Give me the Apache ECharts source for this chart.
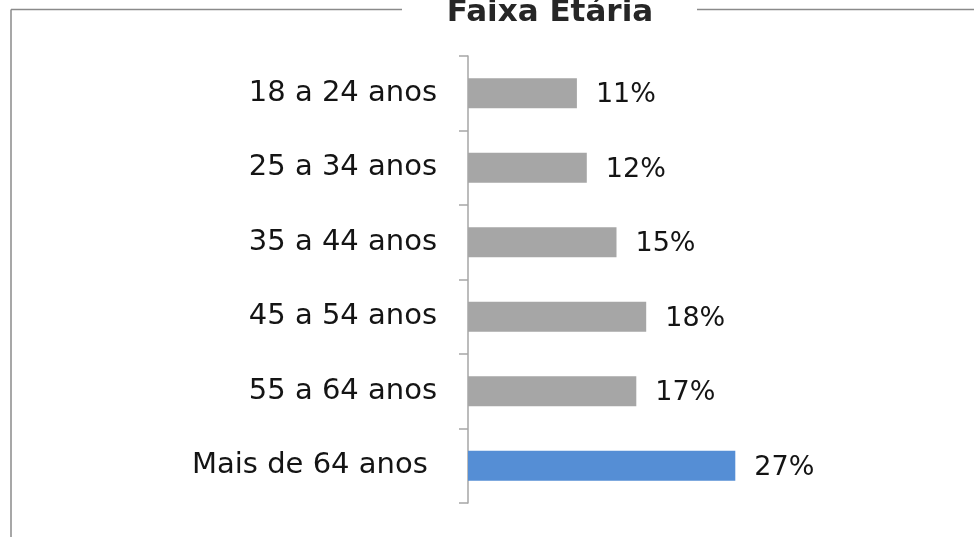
<!DOCTYPE html>
<html>
<head>
<meta charset="utf-8">
<script src="https://cdn.jsdelivr.net/npm/echarts@6/dist/echarts.min.js"></script>
<style>
  html, body { margin: 0; padding: 0; background: #ffffff; }
  #chart { width: 974px; height: 537px; }
</style>
</head>
<body>
<div id="chart"></div>
<script>
// Age bracket shares (percent)
const categories = ['18 a 24 anos', '25 a 34 anos', '35 a 44 anos', '45 a 54 anos', '55 a 64 anos', 'Mais de 64 anos '];
const shares = [11, 12, 15, 18, 17, 27];
const highlighted = 'Mais de 64 anos ';
const chartTitle = 'Faixa Etária';

const FONT = 'DejaVu Sans';
const GRAY = '#a6a6a6';
const BLUE = '#558ed5';
const FRAME = '#8a8a8a';

const chart = echarts.init(document.getElementById('chart'), null, { renderer: 'canvas' });

chart.setOption({
  animation: false,
  backgroundColor: '#ffffff',
  title: {
    text: chartTitle,
    left: 545,
    textAlign: 'center',
    top: -8,
    textStyle: { fontFamily: FONT, fontWeight: 'bold', fontSize: 31, color: '#262626' }
  },
  graphic: [
    { type: 'line', shape: { x1: 11, y1: 9.5, x2: 402, y2: 9.5 }, style: { stroke: FRAME, lineWidth: 1.5 } },
    { type: 'line', shape: { x1: 697, y1: 9.5, x2: 974, y2: 9.5 }, style: { stroke: FRAME, lineWidth: 1.5 } },
    { type: 'line', shape: { x1: 11, y1: 9.5, x2: 11, y2: 537 }, style: { stroke: FRAME, lineWidth: 1.5 } }
  ],
  grid: { left: 468, top: 56, width: 297, height: 447, containLabel: false },
  xAxis: {
    type: 'value',
    min: 0,
    max: 30,
    show: false,
    splitLine: { show: false }
  },
  yAxis: {
    type: 'category',
    inverse: true,
    data: categories,
    axisLine: { show: true, lineStyle: { color: '#a6a6a6', width: 1.5 } },
    axisTick: { show: true, inside: false, length: 9, lineStyle: { color: '#a6a6a6', width: 1.5 } },
    axisLabel: { margin: 31, fontFamily: FONT, fontSize: 29, color: '#141414' },
    splitLine: { show: false }
  },
  series: [{
    type: 'bar',
    barWidth: 30,
    emphasis: { disabled: true },
    data: shares.map((v, i) => ({
      value: v,
      itemStyle: { color: categories[i] === highlighted ? BLUE : GRAY }
    })),
    label: {
      show: true,
      position: 'right',
      distance: 19,
      offset: [0, 2],
      formatter: p => p.value + '%',
      fontFamily: FONT,
      fontSize: 27,
      color: '#141414'
    }
  }]
});
</script>
</body>
</html>
